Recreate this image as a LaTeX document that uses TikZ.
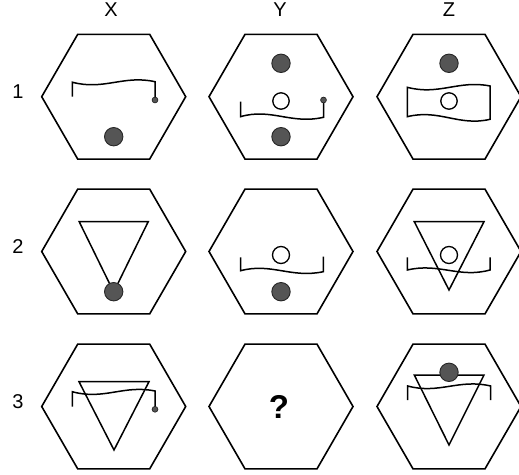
\documentclass[tikz,border=0pt]{standalone}
\usepackage{fontspec}
\setmainfont{Liberation Sans}
\usetikzlibrary{calc}
\definecolor{dotgray}{RGB}{85,85,85}
\tikzset{
  hex/.style={line width=1.6pt, line join=miter},
  shp/.style={line width=1.5pt, line join=miter},
  bigdot/.style={fill=dotgray, draw=black!85, line width=0.9pt},
  smalldot/.style={fill=dotgray, draw=black!85, line width=0.7pt},
  whitedot/.style={fill=white, draw=black, line width=1.3pt},
  lab/.style={font=\fontsize{20}{20}\selectfont, inner sep=0pt},
  hexa/.pic={\draw[hex] (72,0) -- (36,62.35) -- (-36,62.35) -- (-72,0) -- (-36,-62.35) -- (36,-62.35) -- cycle;}
}
\begin{document}
\begin{tikzpicture}[x=1pt,y=-1pt]
\useasboundingbox (0,0) rectangle (519,474);
% cell centres
\coordinate (c11) at (113.7,96.7);
\coordinate (c12) at (281,96.7);
\coordinate (c13) at (449,96.7);
\coordinate (c21) at (113.7,251.5);
\coordinate (c22) at (281,251.5);
\coordinate (c23) at (449,251.5);
\coordinate (c31) at (113.7,406.5);
\coordinate (c32) at (281,406.5);
\coordinate (c33) at (449,406.5);
% labels
\node[lab] (lx) at (111,9.5) {X};
\node[lab] (ly) at (280,9.5) {Y};
\node[lab] (lz) at (449,9.5) {Z};
\node[lab] (l1) at (18,92) {1};
\node[lab] (l2) at (18,246.5) {2};
\node[lab] (l3) at (18,401.5) {3};
% hexagons
\foreach \c in {c11,c12,c13,c21,c22,c23,c31,c32,c33} {\pic at (\c) {hexa};}
% ---- row 1, X
\begin{scope}[shift={(c11)}]
  \draw[shp] (-41.4,0) -- (-41.4,-14.5) .. controls (-10,-6) and (10,-22) .. (41.3,-15) -- (41.3,1.5);
  \filldraw[smalldot] (41.3,3.3) circle (2.9);
  \filldraw[bigdot] (0,40) circle (9.2);
\end{scope}
% ---- row 1, Y
\begin{scope}[shift={(c12)}]
  \filldraw[bigdot] (0,-33.4) circle (9.2);
  \filldraw[whitedot] (0,4.3) circle (8.2);
  \draw[shp] (-40.5,5) -- (-40.5,20) .. controls (-10,11) and (10,28) .. (42.5,20.6) -- (42.5,5);
  \filldraw[smalldot] (42.5,3.3) circle (2.9);
  \filldraw[bigdot] (0,40) circle (9.2);
\end{scope}
% ---- row 1, Z
\begin{scope}[shift={(c13)}]
  \filldraw[bigdot] (0,-33.4) circle (9.2);
  \draw[shp] (-41.7,-9.4) .. controls (-10,-1) and (10,-17) .. (41,-10.7) -- (41,22.6) .. controls (10,30) and (-10,12) .. (-41.7,20) -- cycle;
  \filldraw[whitedot] (0,4.3) circle (8.2);
\end{scope}
% ---- row 2, X
\begin{scope}[shift={(c21)}]
  \draw[shp] (-34.5,-29.8) -- (34.5,-29.8) -- (0,40.5) -- cycle;
  \filldraw[bigdot] (0,40.2) circle (9.2);
\end{scope}
% ---- row 2, Y
\begin{scope}[shift={(c22)}]
  \filldraw[whitedot] (0,3.5) circle (8.5);
  \draw[shp] (-40.3,5.8) -- (-40.3,19.2) .. controls (-10,11) and (10,27) .. (42.3,20.2) -- (42.3,5.2);
  \filldraw[bigdot] (0,40.2) circle (9.2);
\end{scope}
% ---- row 2, Z
\begin{scope}[shift={(c23)}]
  \draw[shp] (-34.7,-29.8) -- (35,-29.8) -- (0,38.5) -- cycle;
  \draw[whitedot] (0,3.5) circle (8.5);
  \draw[shp] (-41.7,5.8) -- (-41.7,18.5) .. controls (-10,11) and (10,27) .. (41,18.5) -- (41,5.8);
\end{scope}
% ---- row 3, X
\begin{scope}[shift={(c31)}]
  \draw[shp] (-34.7,-24.8) -- (35.3,-24.8) -- (0.3,43.5) -- cycle;
  \draw[shp] (-41.4,0.2) -- (-41.4,-14.8) .. controls (-10,-6) and (10,-22) .. (41.3,-15.5) -- (41.3,0.5);
  \filldraw[smalldot] (41.3,2.8) circle (2.9);
\end{scope}
% ---- row 3, Y
\node[font=\fontsize{33}{33}\selectfont\bfseries, inner sep=0pt] (q) at ($(c32)+(-2,0.3)$) {?};
% ---- row 3, Z
\begin{scope}[shift={(c33)}]
  \draw[shp] (-41.3,-6.5) -- (-41.3,-20.5) .. controls (-10,-12) and (10,-28) .. (41.7,-20.5) -- (41.7,-6.5);
  \draw[shp] (-34.7,-31.5) -- (35,-31.5) -- (0,38.5) -- cycle;
  \filldraw[bigdot] (0,-34.2) circle (9.2);
\end{scope}
\end{tikzpicture}
\end{document}
